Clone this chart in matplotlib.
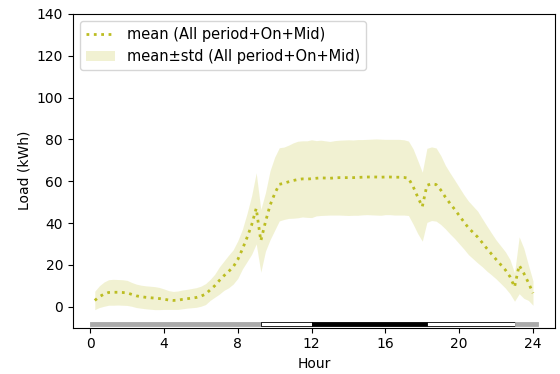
import matplotlib
matplotlib.use("Agg")
import matplotlib.pyplot as plt
import numpy as np

# 15-minute steps, 0.25 h .. 24.0 h
hours = np.arange(1, 97) * 0.25

mean_load = [
    3.0, 4.8, 6.0, 6.8,
    6.9, 6.9, 6.8, 6.6,
    5.9, 5.2, 4.8, 4.5,
    4.3, 4.1, 3.9, 3.6,
    3.2, 3.0, 3.1, 3.5,
    3.8, 4.1, 4.4, 5.0,
    6.0, 8.0, 10.0, 12.5,
    14.8, 16.8, 19.0, 22.5,
    27.5, 33.0, 39.0, 47.0,
    31.5, 40.5, 48.5, 54.0,
    58.5, 59.0, 59.7, 60.3,
    60.8, 61.1, 61.0, 61.2,
    61.4, 61.6, 61.5, 61.4,
    61.6, 61.7, 61.7, 61.7,
    61.7, 61.8, 61.9, 62.0,
    62.0, 62.0, 61.9, 62.0,
    62.0, 61.9, 61.9, 61.8,
    61.4, 57.5, 52.5, 47.8,
    58.0, 58.8, 58.4, 55.8,
    52.4, 49.4, 46.6, 43.6,
    40.6, 37.7, 35.5, 33.3,
    30.6, 27.8, 25.2, 22.6,
    20.1, 17.6, 14.4, 9.4,
    19.8, 16.0, 11.5, 6.5,
]

std_load = [
    4.4, 5.2, 5.8, 6.1,
    6.2, 6.1, 6.1, 6.0,
    5.7, 5.6, 5.5, 5.5,
    5.5, 5.5, 5.3, 4.9,
    4.5, 4.3, 4.4, 4.5,
    4.5, 4.6, 4.7, 4.8,
    5.0, 5.0, 5.5, 6.5,
    7.0, 7.8, 8.2, 9.0,
    9.5, 11.5, 14.0, 17.0,
    15.0, 14.0, 16.5, 17.5,
    17.5, 17.3, 17.5, 18.0,
    18.3, 18.2, 18.3, 18.6,
    18.0, 18.0, 17.8, 17.6,
    17.8, 17.9, 18.0, 18.1,
    18.0, 18.1, 18.0, 18.0,
    18.1, 18.2, 18.2, 18.0,
    18.0, 18.1, 18.1, 18.0,
    17.8, 18.0, 17.5, 16.5,
    17.7, 17.6, 17.5, 16.5,
    15.2, 14.6, 14.0, 13.5,
    13.0, 12.8, 12.6, 12.4,
    11.5, 10.8, 10.0, 9.3,
    9.0, 8.7, 8.2, 6.8,
    13.6, 12.0, 8.5, 5.8,
]

# tariff periods shown as a strip under the curve
period_start = [0, 9.25, 12, 18.25, 23]
period_end = [9.25, 12, 18.25, 23, 24.25]
period_color = ['#aaaaaa', 'white', 'black', 'white', '#aaaaaa']

mean_arr = np.array(mean_load)
std_arr = np.array(std_load)

fig = plt.figure(figsize=(5.6, 3.74), dpi=100)
ax = fig.add_axes([0.130, 0.124, 0.861, 0.839])

ax.plot(hours, mean_arr, linestyle=':', color='#bcbd22', linewidth=2,
        label='mean (All period+On+Mid)')
ax.fill_between(hours, mean_arr - std_arr, mean_arr + std_arr,
                color='#bcbd22', alpha=0.2, linewidth=0,
                label='mean±std (All period+On+Mid)')

for s, e, c in zip(period_start, period_end, period_color):
    edge = 'black' if c == 'white' else c
    ax.broken_barh([(s, e - s)], (-9.4, 1.9), facecolors=c,
                   edgecolor=edge, linewidth=0.6)

ax.set_xlim(-0.94, 25.19)
ax.set_ylim(-10, 140)
ax.set_xticks(range(0, 25, 4))
ax.set_yticks(range(0, 141, 20))
ax.set_xlabel('Hour')
ax.set_ylabel('Load (kWh)')
ax.legend(loc='upper left', fontsize=10.5)

fig.savefig('out.png', dpi=100)
